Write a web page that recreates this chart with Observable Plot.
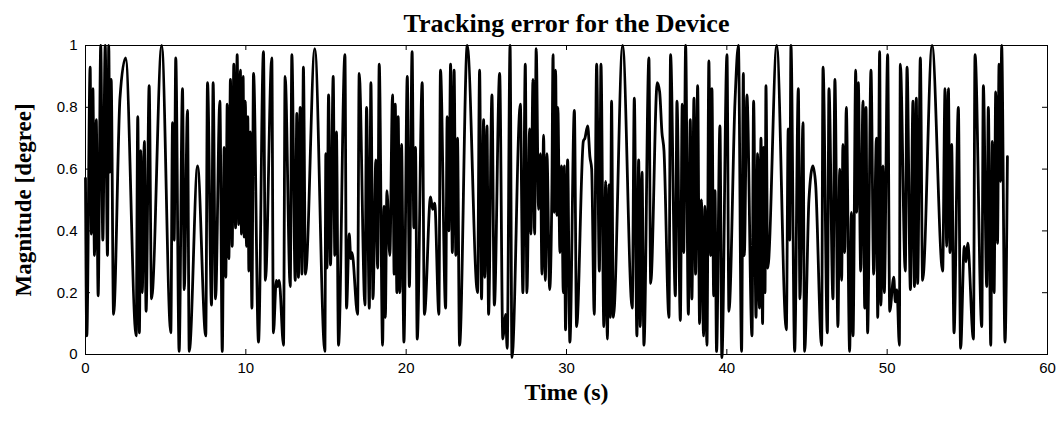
<!DOCTYPE html>
<html>
<head>
<meta charset="utf-8">
<script src="https://cdn.jsdelivr.net/npm/d3@7"></script>
<script src="https://cdn.jsdelivr.net/npm/@observablehq/plot@0.6"></script>
<style>
  html, body { margin: 0; padding: 0; background: #fff; }
  #chart svg { display: block; }
</style>
</head>
<body>
<div id="chart"></div>
<script>
const titleText = "Tracking error for the Device";
const xLabel = "Time (s)";
const yLabel = "Magnitude [degree]";
const xTicks = [0, 10, 20, 30, 40, 50, 60];
const yTicks = [0, 0.2, 0.4, 0.6, 0.8, 1];

const time = [
  0.00,0.08,0.29,0.37,0.46,0.56,0.67,0.79,0.95,1.08,1.23,1.37,1.45,1.52,1.60,1.75,2.15,2.50,3.16,3.26,3.36,3.45,3.54,3.67,3.78,3.97,4.12,4.75,5.32,
  5.43,5.53,5.63,5.84,6.05,6.16,6.36,6.47,6.99,7.50,7.61,7.86,7.96,8.11,8.38,8.53,8.65,8.75,8.84,8.94,9.04,9.15,9.25,9.36,9.46,9.56,9.66,9.73,9.83,
  9.90,9.97,10.04,10.12,10.19,10.27,10.38,10.48,10.79,11.10,11.22,11.62,11.72,11.90,11.98,12.08,12.35,12.45,12.77,12.87,13.08,13.18,13.28,13.39,13.50,13.59,13.72,14.30,14.93,
  14.99,15.06,15.16,15.28,15.45,15.55,15.65,15.78,16.18,16.28,16.45,16.55,16.62,16.97,17.07,17.43,17.53,17.70,17.80,17.93,18.11,18.22,18.32,18.53,18.62,18.70,18.80,18.98,19.15,19.25,19.32,19.42,19.50,
  19.61,19.71,19.86,20.07,20.20,20.37,20.48,20.58,20.69,21.00,21.14,21.52,21.65,21.78,22.04,22.14,22.46,22.56,22.66,22.77,22.88,22.99,23.10,23.20,23.33,23.81,24.45,
  24.58,24.70,24.83,24.91,25.04,25.14,25.35,25.50,25.83,26.03,26.12,26.20,26.30,26.48,26.60,27.12,27.28,27.43,27.53,27.70,27.78,27.91,28.01,28.11,28.26,28.37,28.47,28.57,28.68,28.78,28.95,29.09,
  29.16,29.24,29.32,29.40,29.46,29.59,29.69,29.80,29.86,29.94,30.07,30.21,30.49,30.63,31.05,31.15,31.32,31.46,31.57,31.73,31.88,32.05,32.15,32.33,32.44,32.55,32.65,32.73,32.81,32.92,33.50,34.10,
  34.23,34.39,34.50,34.60,34.71,34.83,35.14,35.25,35.66,35.81,35.95,36.08,36.39,36.49,36.79,36.89,37.10,37.22,37.31,37.43,37.60,37.72,37.82,37.95,38.05,38.18,38.30,38.41,38.55,38.63,38.76,38.88,38.99,
  39.07,39.18,39.26,39.36,39.57,39.69,40.01,40.13,40.51,40.72,40.92,41.03,41.09,41.25,41.57,41.67,41.82,41.92,42.03,42.13,42.23,42.30,42.38,42.44,42.55,43.11,43.71,
  43.83,43.92,44.00,44.23,44.46,44.56,44.75,44.85,45.12,45.37,45.54,45.91,46.00,46.27,46.37,46.62,46.74,46.93,47.04,47.16,47.24,47.35,47.45,47.66,47.77,47.87,48.04,48.10,48.20,48.35,48.49,48.60,48.68,48.78,
  48.99,49.16,49.33,49.41,49.53,49.61,49.74,49.82,50.03,50.16,50.41,50.51,50.61,50.76,50.82,51.13,51.24,51.45,51.61,51.70,51.82,51.90,52.07,52.21,52.80,53.46,
  53.61,53.71,53.82,53.92,54.02,54.17,54.44,54.58,54.81,54.92,55.02,55.38,55.48,55.90,56.00,56.21,56.31,56.46,56.56,56.67,56.77,56.88,56.98,57.07,57.14,57.35,57.50
];
const magnitude = [
  0.57,0.06,0.93,0.39,0.86,0.32,0.76,0.19,1.00,0.37,1.00,0.32,1.00,0.59,0.89,0.13,0.83,0.96,0.06,0.77,0.07,0.66,0.20,0.69,0.14,0.87,0.18,1.00,0.07,
  0.75,0.37,0.96,0.01,0.86,0.21,0.79,0.01,0.61,0.06,0.88,0.16,0.88,0.18,0.82,0.01,0.67,0.25,0.81,0.31,0.89,0.35,0.94,0.41,0.97,0.42,0.92,0.39,0.90,
  0.38,0.82,0.35,0.77,0.27,0.72,0.15,0.91,0.04,0.98,0.24,0.96,0.07,0.24,0.22,0.24,0.03,0.90,0.22,0.97,0.24,0.78,0.25,0.80,0.26,0.93,0.26,0.99,0.01,
  0.65,0.28,0.84,0.29,0.90,0.32,0.72,0.03,0.97,0.15,0.39,0.31,0.33,0.13,0.91,0.16,0.80,0.15,0.88,0.18,0.63,0.28,0.94,0.03,0.48,0.12,0.53,0.32,0.84,0.26,0.81,0.20,0.77,
  0.20,0.68,0.04,0.90,0.22,0.98,0.41,0.67,0.05,0.88,0.13,0.51,0.47,0.49,0.13,0.92,0.15,0.77,0.40,0.94,0.33,0.92,0.32,0.70,0.03,1.00,0.20,
  0.92,0.18,0.76,0.25,0.74,0.13,0.84,0.16,0.91,0.05,0.09,0.13,0.02,1.00,-0.01,0.81,0.20,0.94,0.20,0.73,0.39,0.89,0.39,0.99,0.47,0.65,0.26,0.71,0.24,0.65,0.21,0.54,
  0.97,0.46,0.92,0.45,0.80,0.33,0.61,0.20,0.61,0.08,0.63,0.04,0.79,0.09,0.69,0.70,0.74,0.64,0.60,0.13,0.94,0.27,0.94,0.09,0.56,0.05,0.55,0.12,0.82,0.12,1.00,0.15,
  0.83,0.06,0.63,0.09,0.59,0.03,0.96,0.23,0.88,0.85,0.72,0.66,0.12,0.97,0.19,0.82,0.11,0.81,0.33,1.00,0.13,0.76,0.18,0.83,0.26,0.87,0.10,0.50,0.06,0.48,0.03,0.95,0.32,
  0.86,0.19,0.53,0.01,0.74,-0.01,0.97,0.14,0.82,1.00,0.01,0.91,0.32,0.84,0.06,0.82,0.12,0.65,0.15,0.70,0.10,0.67,0.20,0.87,0.28,1.00,0.08,
  0.73,0.37,1.00,0.01,0.86,0.18,0.75,0.01,0.50,0.61,0.55,0.03,0.93,0.07,0.86,0.18,0.89,0.09,0.60,0.24,0.68,0.33,0.80,0.01,0.46,0.06,0.92,0.46,0.88,0.27,0.82,0.15,0.80,0.07,
  0.92,0.26,0.70,0.12,0.98,0.16,0.61,0.20,0.97,0.14,0.25,0.17,0.21,0.03,0.94,0.27,0.93,0.21,0.82,0.22,0.83,0.23,0.96,0.24,1.00,0.27,
  0.86,0.35,0.86,0.33,0.68,0.07,0.80,0.02,0.35,0.30,0.36,0.05,0.97,0.09,0.87,0.22,0.80,0.03,0.69,0.20,0.85,0.36,0.94,0.56,1.00,0.04,0.64
];

const data = time.map((t, i) => ({t, v: magnitude[i]}));

const W = 1061, H = 421, ML = 85, MR = 14, MT = 45, MB = 67;
const innerW = W - ML - MR, innerH = H - MT - MB;
const serif = "'Liberation Serif', 'Times New Roman', Times, serif";
const sans = "'Liberation Sans', Arial, Helvetica, sans-serif";

const chart = Plot.plot({
  width: W,
  height: H,
  marginLeft: ML,
  marginRight: MR,
  marginTop: MT,
  marginBottom: MB,
  style: {fontFamily: sans, fontSize: "15px", color: "#000", background: "#fff", overflow: "visible"},
  x: {domain: [0, 60]},
  y: {domain: [0, 1]},
  marks: [
    Plot.tickX(xTicks, {x: d => d, insetTop: innerH - 5, stroke: "#000"}),
    Plot.tickX(xTicks, {x: d => d, insetBottom: innerH - 5, stroke: "#000"}),
    Plot.tickY(yTicks, {y: d => d, insetRight: innerW - 5, stroke: "#000"}),
    Plot.tickY(yTicks, {y: d => d, insetLeft: innerW - 5, stroke: "#000"}),
    Plot.axisX({ticks: xTicks, tickSize: 0, tickPadding: 8, label: null, fontSize: 15}),
    Plot.axisY({ticks: yTicks, tickSize: 0, tickPadding: 8, label: null, fontSize: 15, tickFormat: d => String(d)}),
    Plot.line(data, {x: "t", y: "v", curve: "monotone-x", stroke: "#000", strokeWidth: 2.8}),
    Plot.frame({stroke: "#000", strokeWidth: 1}),
    Plot.text([titleText], {text: d => d, frameAnchor: "top", lineAnchor: "middle", textAnchor: "middle", dy: -22, fontFamily: serif, fontWeight: "bold", fontSize: 26, fill: "#000"}),
    Plot.text([xLabel], {text: d => d, frameAnchor: "bottom", lineAnchor: "middle", textAnchor: "middle", dy: 38, fontFamily: serif, fontWeight: "bold", fontSize: 24, fill: "#000"}),
    Plot.text([yLabel], {text: d => d, frameAnchor: "left", lineAnchor: "middle", textAnchor: "middle", dx: -62, rotate: -90, fontFamily: serif, fontWeight: "bold", fontSize: 23, fill: "#000"})
  ]
});
document.getElementById("chart").appendChild(chart);
</script>
</body>
</html>
